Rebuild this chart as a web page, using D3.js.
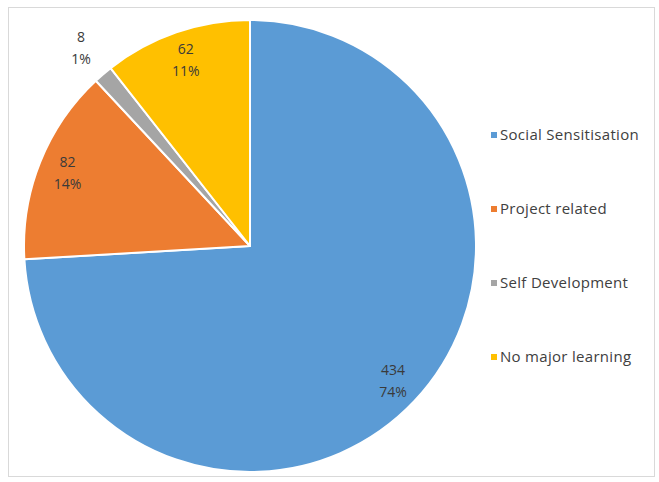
<!DOCTYPE html>
<html>
<head>
<meta charset="utf-8">
<script src="https://cdn.jsdelivr.net/npm/d3@7"></script>
<style>
  html, body { margin: 0; padding: 0; background: #fff; }
  svg { display: block; }
  text { font-family: "Open Sans", "Liberation Sans", sans-serif; }
</style>
</head>
<body>
<div id="chart"></div>
<script>
// Learning outcomes reported by respondents
const categories = ["Social Sensitisation", "Project related", "Self Development", "No major learning"];
const counts = [434, 82, 8, 62];
const colors = ["#5B9BD5", "#ED7D31", "#A5A5A5", "#FFC000"];

const width = 659, height = 482;
const cx = 250, cy = 246, radius = 226;

const svg = d3.select("#chart").append("svg")
  .attr("width", width)
  .attr("height", height);

// chart area frame
svg.append("rect")
  .attr("x", 8.5).attr("y", 7.5)
  .attr("width", 646).attr("height", 469)
  .attr("fill", "#fff")
  .attr("stroke", "#d9d9d9")
  .attr("stroke-width", 1);

const total = d3.sum(counts);
const pie = d3.pie().sort(null).value(d => d);
const arcs = pie(counts);

const arc = d3.arc().innerRadius(0).outerRadius(radius);

const g = svg.append("g").attr("transform", `translate(${cx},${cy})`);

g.selectAll("path.slice")
  .data(arcs)
  .join("path")
  .attr("class", "slice")
  .attr("d", arc)
  .attr("fill", (d, i) => colors[i])
  .attr("stroke", "#fff")
  .attr("stroke-width", 2)
  .attr("stroke-linejoin", "round");

// label distance from the centre: small slices get their label outside the pie
const labelRadius = d => (d.endAngle - d.startAngle) < 0.2 ? radius * 1.15 : radius * 0.87;

const labels = g.selectAll("g.label")
  .data(arcs)
  .join("g")
  .attr("class", "label")
  .attr("transform", d => {
    const r = labelRadius(d);
    const [x, y] = d3.arc().innerRadius(r).outerRadius(r).centroid(d);
    return `translate(${x},${y})`;
  });

labels.append("text")
  .attr("text-anchor", "middle")
  .attr("y", -11)
  .attr("dy", "0.35em")
  .attr("font-size", 14)
  .attr("fill", "#3a3a3a")
  .text(d => d.data);

labels.append("text")
  .attr("text-anchor", "middle")
  .attr("y", 11)
  .attr("dy", "0.35em")
  .attr("font-size", 14)
  .attr("fill", "#3a3a3a")
  .text(d => Math.round(d.data / total * 100) + "%");

// legend
const legendY = d3.scalePoint().domain(categories).range([135, 357]);
const legend = svg.append("g").selectAll("g")
  .data(categories)
  .join("g")
  .attr("transform", d => `translate(491,${legendY(d)})`);

legend.append("rect")
  .attr("x", 0).attr("y", -3)
  .attr("width", 6).attr("height", 6)
  .attr("fill", (d, i) => colors[i]);

legend.append("text")
  .attr("x", 9)
  .attr("dy", "0.35em")
  .attr("font-size", 15)
  .attr("letter-spacing", 0.3)
  .attr("fill", "#404040")
  .text(d => d);
</script>
</body>
</html>
